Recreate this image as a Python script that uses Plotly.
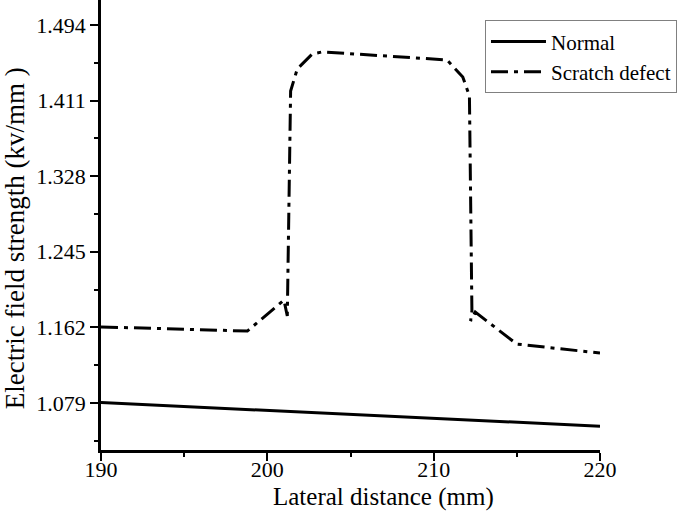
import plotly.graph_objects as go

# Lateral distance (mm)
normal_x = [190, 200, 210, 220]
normal_y = [1.0795, 1.0710, 1.0625, 1.0535]

scratch_x = [190, 198.8, 201.0, 201.2, 201.4, 201.8, 202.7, 203.3, 210.8, 211.75, 212.15, 212.3, 212.22, 212.5, 215.0, 220]
scratch_y = [1.1625, 1.1580, 1.1920, 1.1745, 1.4215, 1.4457, 1.4622, 1.4644, 1.4556, 1.4369, 1.4160, 1.1800, 1.1690, 1.1788, 1.1437, 1.1338]

font = "Liberation Serif, Times New Roman, serif"

fig = go.Figure()
fig.add_trace(go.Scatter(x=normal_x, y=normal_y, mode="lines", name="Normal",
                         line=dict(color="black", width=3)))
fig.add_trace(go.Scatter(x=scratch_x, y=scratch_y, mode="lines", name="Scratch defect",
                         line=dict(color="black", width=3, dash="17px,6px,4px,6px")))

fig.update_layout(
    width=685, height=521,
    margin=dict(l=101, r=85, t=0, b=71, autoexpand=False),
    plot_bgcolor="white", paper_bgcolor="white",
    font=dict(family=font, size=22, color="black"),
    showlegend=True,
    legend=dict(x=0.7695, xanchor="left", y=0.955, yanchor="top",
                bordercolor="#808080", borderwidth=1, bgcolor="white",
                font=dict(size=21), itemwidth=55, tracegroupgap=0),
)
fig.update_xaxes(
    range=[190, 220], tick0=190, dtick=10,
    showline=True, linecolor="black", linewidth=2.5, showgrid=False, zeroline=False,
    ticks="outside", ticklen=8, tickwidth=2, tickcolor="black", ticklabelstandoff=-10,
    minor=dict(dtick=5, ticks="outside", ticklen=4, tickwidth=2, tickcolor="black"),
    tickfont=dict(size=22),
)
fig.update_yaxes(
    range=[1.0274, 1.5214], tick0=1.079, dtick=0.083, tickformat=".3f",
    showline=True, linecolor="black", linewidth=2.5, showgrid=False, zeroline=False,
    ticks="outside", ticklen=8, tickwidth=2, tickcolor="black",
    minor=dict(tick0=1.079, dtick=0.0415, ticks="outside", ticklen=4, tickwidth=2, tickcolor="black"),
    tickfont=dict(size=22),
)

# axis titles placed as in the original (offset from the axis centre)
fig.add_annotation(text="Lateral distance (mm)", xref="paper", yref="paper",
                   x=0.567, y=-0.104, xanchor="center", yanchor="middle",
                   showarrow=False, font=dict(size=25))
fig.add_annotation(text="Electric field strength (kv/mm )", xref="paper", yref="paper",
                   x=-0.172, y=0.471, xanchor="center", yanchor="middle", textangle=-90,
                   showarrow=False, font=dict(size=27))

# page body has a default 8px margin; remove it so the figure sits at the window corner
fig.write_html("out.html", config={"displayModeBar": False},
               post_script="document.body.style.margin='0';")
